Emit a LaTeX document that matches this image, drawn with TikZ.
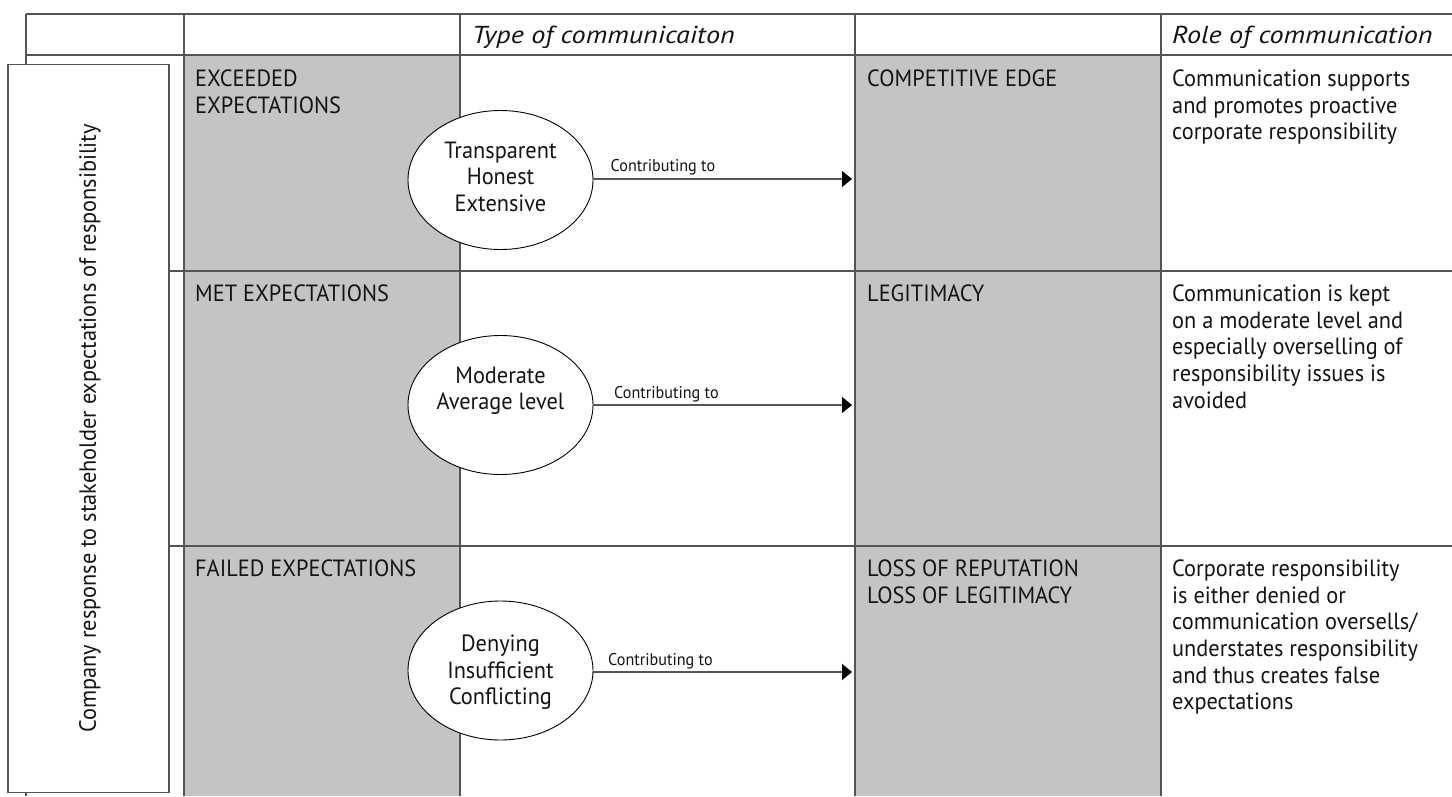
\documentclass[tikz,border=0pt]{standalone}
\usepackage{fontspec}
\setmainfont{PT Sans}
\newfontfamily\bodyfont{PT Sans}[FakeStretch=0.95]
\newfontfamily\headfont{PT Sans}[FakeStretch=1.15]
\usetikzlibrary{shapes.geometric, arrows.meta}
\definecolor{cellgray}{RGB}{195,196,198}
\definecolor{rulegray}{RGB}{85,85,85}
\definecolor{ink}{RGB}{20,20,20}
\begin{document}
\begin{tikzpicture}[x=1pt,y=-1pt,
  rule/.style={draw=rulegray, line width=1.4pt},
  celltext/.style={anchor=north west, inner sep=0pt, align=left, text=ink, font=\bodyfont\fontsize{23.5}{26.7}\selectfont},
  headtext/.style={anchor=base west, inner sep=0pt, text=ink, font=\headfont\itshape\fontsize{24.5}{28}\selectfont},
  oval/.style={ellipse, draw=black, line width=0.9pt, fill=white, minimum width=185pt, minimum height=139pt, inner sep=0pt},
  ovaltext/.style={anchor=north, align=center, inner sep=0pt, text=ink, font=\bodyfont\fontsize{23.5}{26.7}\selectfont},
  arr/.style={draw=rulegray, line width=1.4pt, -{Triangle[length=10pt,width=16pt,color=black]}},
  smalllabel/.style={anchor=base west, inner sep=0pt, text=ink, font=\bodyfont\fontsize{17}{19}\selectfont},
  sidebox/.style={draw=rulegray, line width=1.4pt, fill=white, minimum width=161pt, minimum height=728pt, inner sep=0pt}
]
\useasboundingbox (0,0) rectangle (1452,796);
\fill[white] (0,0) rectangle (1452,796);
% gray columns
\fill[cellgray] (184,55) rectangle (460,796);
\fill[cellgray] (855,55) rectangle (1161,796);
% table rules
\foreach \yy in {14,55,271,546} \draw[rule] (26,\yy) -- (1452,\yy);
\foreach \xx in {26,184,460,855,1161} \draw[rule] (\xx,14) -- (\xx,796);
% side box
\node[sidebox] (side) at (88.5,428.3) {};
\node[rotate=90, inner sep=0pt, text=ink, font=\bodyfont\fontsize{23.5}{26}\selectfont] (sidetext) at (90,428.5) {Company response to stakeholder expectations of responsibility};
% headers
\node[headtext] (h1) at (472,43) {Type of communicaiton};
\node[headtext] (h2) at (1172,43) {Role of communication};
% row 1
\node[celltext] (r1a) at (195,69.5) {EXCEEDED\\EXPECTATIONS};
\node[celltext] (r1b) at (867,69.5) {COMPETITIVE EDGE};
\node[celltext] (r1c) at (1172,69.5) {Communication supports\\and promotes proactive\\corporate responsibility};
% row 2
\node[celltext] (r2a) at (195,284.5) {MET EXPECTATIONS};
\node[celltext] (r2b) at (867,284.5) {LEGITIMACY};
\node[celltext] (r2c) at (1172,284.5) {Communication is kept\\on a moderate level and\\especially overselling of\\responsibility issues is\\avoided};
% row 3
\node[celltext] (r3a) at (195,559.5) {FAILED EXPECTATIONS};
\node[celltext] (r3b) at (867,559.5) {LOSS OF REPUTATION\\LOSS OF LEGITIMACY};
\node[celltext] (r3c) at (1172,559.5) {Corporate responsibility\\is either denied or\\communication oversells/\\understates responsibility\\and thus creates false\\expectations};
% ellipses
\node[oval] (e1) at (500.5,180) {};
\node[oval] (e2) at (500.5,405) {};
\node[oval] (e3) at (500.5,670.5) {};
\node[ovaltext] (e1t) at (500.5,141.5) {Transparent\\Honest\\Extensive};
\node[ovaltext] (e2t) at (500.5,366.5) {Moderate\\Average level};
\node[ovaltext] (e3t) at (500.5,634.5) {Denying\\Insufficient\\Conflicting};
% arrow targets
\coordinate (t1) at (852,179);
\coordinate (t2) at (852,405);
\coordinate (t3) at (852,672);
\draw[arr] (e1.east |- t1) -- (t1);
\draw[arr] (e2.east |- t2) -- (t2);
\draw[arr] (e3.east |- t3) -- (t3);
\node[smalllabel] (l1) at (610.5,171.5) {Contributing to};
\node[smalllabel] (l2) at (614,398) {Contributing to};
\node[smalllabel] (l3) at (608,665) {Contributing to};
\end{tikzpicture}
\end{document}
